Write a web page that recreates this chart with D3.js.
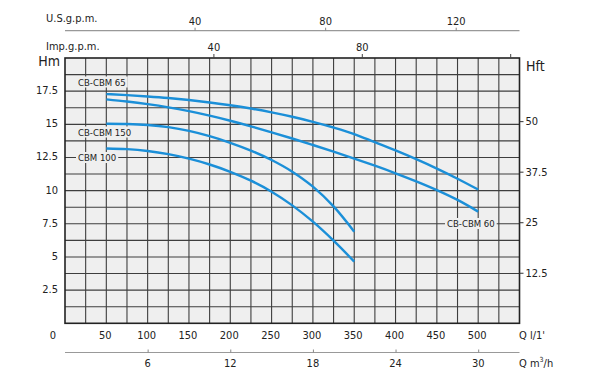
<!DOCTYPE html>
<html><head><meta charset="utf-8">
<script src="https://cdn.jsdelivr.net/npm/d3@7"></script>
<style>
html,body{margin:0;padding:0;background:#fff;}
svg text{font-family:"DejaVu Sans Condensed","Liberation Sans Narrow","Roboto Condensed","Open Sans",sans-serif;fill:#222;}
</style></head>
<body><svg id="c" width="600" height="375"></svg>
<script>
// ---- data ----
const flowLpm = [50,75,100,125,150,175,200,225,250,275,300,325,350,375,400,425,450,475,500];
const cb65  = [17.28,17.20,17.10,16.98,16.83,16.65,16.44,16.19,15.90,15.57,15.19,14.76,14.27,13.65,13.03,12.37,11.66,10.90,10.08];
const cb60  = [16.88,16.72,16.52,16.28,15.99,15.65,15.27,14.85,14.40,13.93,13.44,12.94,12.42,11.88,11.31,10.70,10.04,9.30,8.42];
const cb150 = [15.04,15.02,14.95,14.79,14.51,14.11,13.61,13.02,12.31,11.43,10.30,8.81,6.91];
const cbm100= [13.18,13.13,12.99,12.75,12.41,11.97,11.42,10.75,9.92,8.89,7.66,6.23,4.65];
const seriesNames = ["CB-CBM 65","CB-CBM 60","CB-CBM 150","CBM 100"];
const xTicks = [50,100,150,200,250,300,350,400,450,500];
const yTicks = [2.5,5,7.5,10,12.5,15,17.5];
const ftTicks = [12.5,25,37.5,50];
const usTicks = [40,80,120];
const impTicks = [40,80,120];
const impLabels = [40,80];
const m3Ticks = [6,12,18,24,30];

// ---- layout ----
const svg = d3.select("#c");
const L=65, R=519.5, T=58, B=323.3;
const x = d3.scaleLinear().domain([0,550]).range([L,R]);
const y = d3.scaleLinear().domain([0,20]).range([B,T]);
const yFt = d3.scaleLinear().domain([0,20/0.3048]).range([B,T]);
const xUS = d3.scaleLinear().domain([0,140]).range([64,521]);
const xImp = d3.scaleLinear().domain([0,120]).range([65,510.2]);
const xM3 = d3.scaleLinear().domain([0,33]).range([L,R]);
const blue = "#1b8fd8";

svg.append("rect").attr("x",L).attr("y",T).attr("width",R-L).attr("height",B-T).attr("fill","#efefef");

// grid
const g = svg.append("g");
g.selectAll("line.v").data(d3.range(25,550,25)).join("line")
  .attr("x1",d=>x(d)).attr("x2",d=>x(d)).attr("y1",T).attr("y2",B)
  .attr("stroke","#3e3e3e").attr("stroke-width",1.1);
g.selectAll("line.h").data(d3.range(1.25,20,1.25)).join("line")
  .attr("y1",d=>y(d)).attr("y2",d=>y(d)).attr("x1",L).attr("x2",R)
  .attr("stroke","#3e3e3e").attr("stroke-width",1.1);
svg.append("rect").attr("x",L).attr("y",T).attr("width",R-L).attr("height",B-T)
  .attr("fill","none").attr("stroke","#222").attr("stroke-width",1.6);

// curves
const line = d3.line().x(d=>x(d[0])).y(d=>y(d[1])).curve(d3.curveMonotoneX);
[cb65,cb60,cb150,cbm100].forEach(vals=>{
  svg.append("path").datum(vals.map((v,i)=>[flowLpm[i],v]))
    .attr("d",line).attr("fill","none").attr("stroke",blue).attr("stroke-width",2.4);
});

// curve labels with background
function label(txt,xx,yy){
  const t = svg.append("text").attr("x",xx).attr("y",yy).attr("font-size",9.5)
    .attr("dominant-baseline","middle").text(txt);
  const bb = t.node().getBBox();
  svg.insert("rect",()=>t.node()).attr("x",bb.x-2).attr("y",bb.y).attr("width",bb.width+4).attr("height",bb.height).attr("fill","#efefef");
}
label(seriesNames[0],78,83);
label(seriesNames[2],78,133);
label(seriesNames[3],78,158.5);
label(seriesNames[1],447,224.5);

// left axis labels
svg.selectAll("text.yl").data(yTicks).join("text").attr("class","yl")
  .attr("x",58).attr("y",d=>y(d)).attr("text-anchor","end").attr("dominant-baseline","middle")
  .attr("font-size",11).text(d=>d);
svg.append("text").attr("x",60).attr("y",66).attr("text-anchor","end").attr("font-size",14).text("Hm");
svg.append("text").attr("x",56).attr("y",336).attr("text-anchor","end").attr("dominant-baseline","middle").attr("font-size",11).text("0");

// right axis
const ra = svg.append("g").attr("transform",`translate(${R},0)`)
  .call(d3.axisRight(yFt).tickValues(ftTicks).tickSize(4).tickPadding(2).tickFormat(d=>d));
ra.select(".domain").remove();
ra.selectAll("line").attr("stroke","#333");
ra.selectAll("text").attr("font-size",11).attr("fill","#222");
svg.append("text").attr("x",526).attr("y",71).attr("font-size",14).text("Hft");

// bottom l/min labels
svg.selectAll("text.xl").data(xTicks).join("text").attr("class","xl")
  .attr("x",d=>x(d)-1).attr("y",336).attr("text-anchor","middle").attr("dominant-baseline","middle")
  .attr("font-size",11).text(d=>d);
svg.append("text").attr("x",519).attr("y",336).attr("dominant-baseline","middle").attr("font-size",11).text("Q  l/1'");

// m3/h axis
svg.append("line").attr("x1",L).attr("x2",R).attr("y1",352.5).attr("y2",352.5).attr("stroke","#999").attr("stroke-width",1.2);
const ma = svg.append("g").attr("transform","translate(0,352.5)")
  .call(d3.axisTop(xM3).tickValues(m3Ticks).tickSize(3).tickFormat(""));
ma.select(".domain").remove(); ma.selectAll("line").attr("stroke","#888");
svg.selectAll("text.m3").data(m3Ticks).join("text").attr("class","m3")
  .attr("x",d=>xM3(d)).attr("y",364).attr("text-anchor","middle").attr("dominant-baseline","middle")
  .attr("font-size",11).text(d=>d);
const ql = svg.append("text").attr("x",519).attr("y",364).attr("dominant-baseline","middle").attr("font-size",11);
ql.append("tspan").text("Q  m");
ql.append("tspan").attr("dy",-4).attr("font-size",7).text("3");
ql.append("tspan").attr("dy",4).text("/h");

// US gpm axis
svg.append("line").attr("x1",L).attr("x2",R).attr("y1",30.7).attr("y2",30.7).attr("stroke","#999").attr("stroke-width",1.2);
const ua = svg.append("g").attr("transform","translate(0,30.7)")
  .call(d3.axisTop(xUS).tickValues(usTicks).tickSize(3).tickPadding(3).tickFormat(d=>d));
ua.select(".domain").remove(); ua.selectAll("line").attr("stroke","#888");
ua.selectAll("text").attr("font-size",11).attr("fill","#222");
svg.append("text").attr("x",46).attr("y",22).attr("font-size",11).text("U.S.g.p.m.");

// Imp gpm axis (on plot top border)
const ia = svg.append("g").attr("transform",`translate(0,${T})`)
  .call(d3.axisTop(xImp).tickValues(impTicks).tickSize(4).tickPadding(3).tickFormat(d=>impLabels.includes(d)?d:""));
ia.select(".domain").remove(); ia.selectAll("line").attr("stroke","#444");
ia.selectAll("text").attr("font-size",11).attr("fill","#222");
svg.append("text").attr("x",46).attr("y",50).attr("font-size",11).text("Imp.g.p.m.");
</script></body></html>
